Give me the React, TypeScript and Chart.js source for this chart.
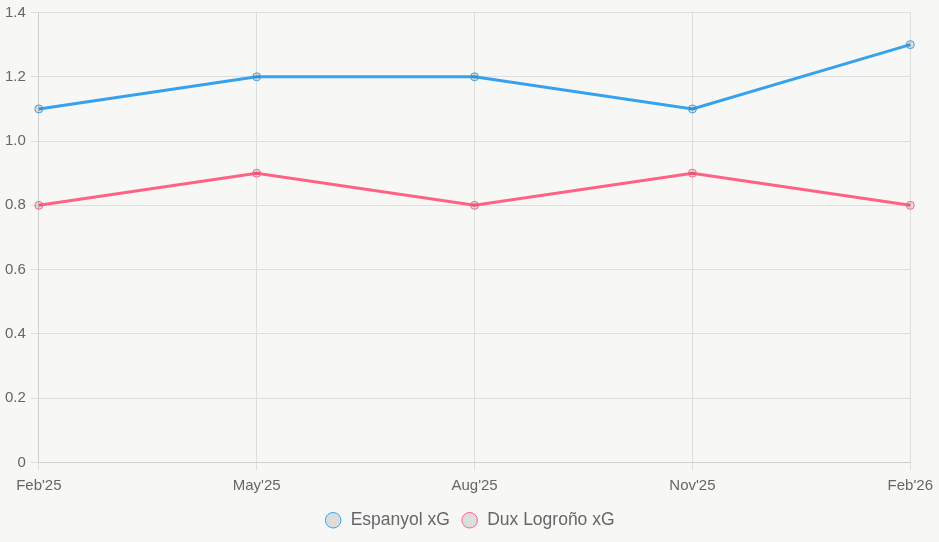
import React, { useEffect, useRef } from "react";
import { Chart, registerables } from "chart.js";

Chart.register(...registerables);

const periods = ["Feb'25", "May'25", "Aug'25", "Nov'25", "Feb'26"];
const espanyolXG = [1.1, 1.2, 1.2, 1.1, 1.3];
const duxLogronoXG = [0.8, 0.9, 0.8, 0.9, 0.8];

export default function App() {
  const canvasRef = useRef<HTMLCanvasElement | null>(null);

  useEffect(() => {
    if (!canvasRef.current) return;
    const chart = new Chart(canvasRef.current, {
      type: "line",
      data: {
        labels: periods,
        datasets: [
          {
            label: "Espanyol xG",
            data: espanyolXG,
            borderColor: "#36a2eb",
            backgroundColor: "rgba(0,0,0,0.1)",
            borderWidth: 3,
            pointRadius: 4,
            pointBorderWidth: 1,
            tension: 0,
          },
          {
            label: "Dux Logroño xG",
            data: duxLogronoXG,
            borderColor: "#ff6384",
            backgroundColor: "rgba(0,0,0,0.1)",
            borderWidth: 3,
            pointRadius: 4,
            pointBorderWidth: 1,
            tension: 0,
          },
        ],
      },
      options: {
        animation: false,
        responsive: true,
        maintainAspectRatio: false,
        layout: { padding: { top: 2, right: 0, left: 0, bottom: 3 } },
        scales: {
          x: {
            grid: { color: "#dedede" },
            border: { color: "#cfcfcf" },
            ticks: { padding: 6, color: "#666", font: { size: 15, family: "Liberation Sans, Arial" } },
          },
          y: {
            min: 0,
            max: 1.4,
            grid: { color: "#dedede" },
            border: { color: "#cfcfcf" },
            ticks: {
              stepSize: 0.2,
              padding: 5,
              color: "#666",
              font: { size: 15, lineHeight: 1.0, family: "Liberation Sans, Arial" },
              callback: (v: any) => (Number(v) === 0 ? "0" : Number(v).toFixed(1)),
            },
          },
        },
        plugins: {
          legend: {
            position: "bottom",
            labels: {
              usePointStyle: true,
              pointStyle: "circle",
              boxHeight: 11,
              padding: 11,
              color: "#666",
              font: { size: 17.5, family: "Liberation Sans, Arial" },
            },
          },
          tooltip: { enabled: false },
        },
      },
    });
    return () => chart.destroy();
  }, []);

  return (
    <div
      style={{
        position: "fixed",
        left: 0,
        top: 0,
        width: 939,
        height: 542,
        background: "#f7f7f5",
      }}
    >
      <canvas ref={canvasRef} />
    </div>
  );
}
